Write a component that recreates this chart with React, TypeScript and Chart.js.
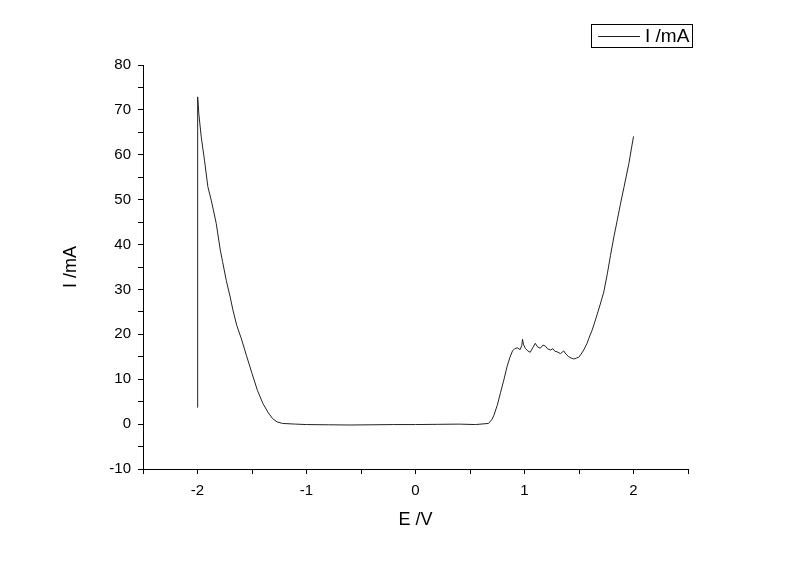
import React, { useEffect, useRef } from "react";
import { Chart, registerables } from "chart.js";

Chart.register(...registerables);

const potential: number[] = [
  -2.0, -2.0, -1.997, -1.988, -1.966, -1.936, -1.905, -1.874, -1.828, -1.791, -1.77, -1.736, -1.7,
  -1.675, -1.64, -1.6, -1.55, -1.5, -1.45, -1.4, -1.35, -1.31, -1.27, -1.22, -1.1, -1.0, -0.8,
  -0.6, -0.4, -0.2, 0.0, 0.2, 0.4, 0.55, 0.67, 0.7, 0.72, 0.75, 0.78, 0.81, 0.84, 0.865, 0.89,
  0.91, 0.935, 0.96, 0.975, 0.982, 0.99, 1.007, 1.03, 1.053, 1.075, 1.099, 1.12, 1.145, 1.17,
  1.191, 1.21, 1.237, 1.26, 1.28, 1.3, 1.33, 1.36, 1.38, 1.406, 1.43, 1.452, 1.475, 1.498, 1.52,
  1.543, 1.574, 1.59, 1.62, 1.651, 1.69, 1.727, 1.76, 1.789, 1.82, 1.85, 1.88, 1.912, 1.958, 2.0,
];

const current: number[] = [
  3.7, 22, 72.9, 69.2, 64, 58.8, 52.9, 49.9, 44.7, 38.8, 36.2, 32, 28.3,
  25.4, 22, 19.2, 15.2, 11.3, 7.5, 4.6, 2.5, 1.2, 0.5, 0.15, 0.0, -0.1, -0.15,
  -0.2, -0.15, -0.1, -0.1, -0.05, 0.0, -0.1, 0.15, 1.0, 2.0, 4.2, 7.0, 9.8, 12.8, 14.8, 16.3,
  16.8, 17.0, 16.6, 17.5, 18.9, 17.8, 16.9, 16.3, 16.0, 17.0, 18.0, 17.2, 16.9, 17.6,
  17.4, 16.8, 16.5, 16.8, 16.2, 16.1, 15.7, 16.3, 15.6, 15.0, 14.7, 14.5, 14.7, 14.9, 15.6,
  16.5, 18.0, 19.1, 20.9, 23.2, 26.3, 29.4, 33.5, 37.6, 41.7, 45.3, 49.0, 52.7, 58.1, 64.1,
];

const seriesLabel = "I /mA";
const xTitle = "E /V";
const yTitle = "I /mA";
const xRange: number[] = [-2.5, 2.5];
const yRange: number[] = [-10, 80];
const xStep = 0.5;
const yStep = 5;

const FONT = "'Liberation Sans', Arial, sans-serif";

const legendPlugin = {
  id: "originLegend",
  afterDraw(chart: any) {
    const ctx = chart.ctx as CanvasRenderingContext2D;
    ctx.save();
    ctx.strokeStyle = "#000";
    ctx.lineWidth = 1;
    ctx.strokeRect(591.5, 24.5, 101, 23);
    ctx.strokeStyle = "#222";
    ctx.beginPath();
    ctx.moveTo(598, 36.5);
    ctx.lineTo(640, 36.5);
    ctx.stroke();
    ctx.fillStyle = "#000";
    ctx.font = `19px ${FONT}`;
    ctx.textBaseline = "middle";
    ctx.textAlign = "left";
    ctx.fillText(seriesLabel, 645, 37);
    ctx.restore();
  },
};

export default function App() {
  const ref = useRef<HTMLCanvasElement | null>(null);
  useEffect(() => {
    if (!ref.current) return;
    const data = potential.map((x, i) => ({ x, y: current[i] }));
    const chart = new Chart(ref.current, {
      type: "scatter",
      data: {
        datasets: [
          {
            label: seriesLabel,
            data,
            showLine: true,
            borderColor: "#222",
            borderWidth: 1,
            pointRadius: 0,
            tension: 0,
          },
        ],
      },
      options: {
        animation: false,
        responsive: false,
        layout: { padding: { left: 0, top: 65, right: 112, bottom: 0 } },
        plugins: { legend: { display: false }, tooltip: { enabled: false } },
        scales: {
          x: {
            type: "linear",
            min: xRange[0],
            max: xRange[1],
            afterFit: (s: any) => {
              s.height = 95;
            },
            ticks: {
              stepSize: xStep,
              autoSkip: false,
              color: "#000",
              padding: 8,
              font: { family: FONT, size: 15 },
              callback: (v: any) => (Number.isInteger(v) ? String(v) : ""),
            },
            grid: { drawOnChartArea: false, color: "#000", tickColor: "#000", tickLength: 5 },
            border: { color: "#000", width: 1 },
            title: {
              display: true,
              text: xTitle,
              color: "#000",
              font: { family: FONT, size: 18 },
              padding: { top: 0, bottom: 33 },
            },
          },
          y: {
            type: "linear",
            min: yRange[0],
            max: yRange[1],
            afterFit: (s: any) => {
              s.width = 143;
            },
            ticks: {
              stepSize: yStep,
              autoSkip: false,
              color: "#000",
              padding: 7,
              font: { family: FONT, size: 15 },
              callback: (v: any) => (v % 10 === 0 ? String(v) : ""),
            },
            grid: { drawOnChartArea: false, color: "#000", tickColor: "#000", tickLength: 5 },
            border: { color: "#000", width: 1 },
            title: {
              display: true,
              text: yTitle,
              color: "#000",
              font: { family: FONT, size: 18 },
              padding: { top: 60, bottom: 0 },
            },
          },
        },
      },
      plugins: [legendPlugin],
    });
    return () => chart.destroy();
  }, []);
  return (
    <div style={{ position: "absolute", left: 0, top: 0, width: 800, height: 564, background: "#fff" }}>
      <canvas ref={ref} width={800} height={564} />
    </div>
  );
}
